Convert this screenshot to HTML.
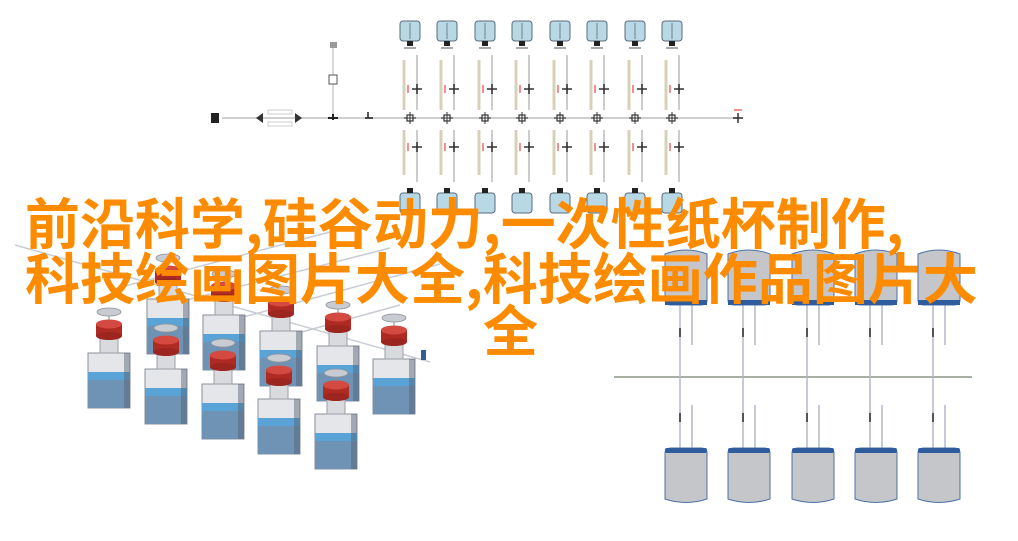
<!DOCTYPE html>
<html><head><meta charset="utf-8"><style>
html,body{margin:0;padding:0;background:#fff;}
svg{display:block}
.t{font-family:"Noto Sans CJK SC","Liberation Sans",sans-serif;font-size:55px;font-weight:bold;fill:#fd8b00;}
</style></head><body>
<svg width="1018" height="541" viewBox="0 0 1018 541" xmlns="http://www.w3.org/2000/svg">
<defs>
<g id="ttank">
<rect x="-10" y="0" width="20" height="20" rx="3" fill="#b9d8e6" stroke="#5a6a78" stroke-width="1"/>
<line x1="0" y1="2" x2="0" y2="18" stroke="#5a6a78" stroke-width="0.8"/>
<rect x="-3" y="20" width="6" height="5" fill="#222"/>
</g>
<g id="col">
<use href="#ttank" x="0" y="21"/>
<line x1="-6" y1="48" x2="6" y2="48" stroke="#555" stroke-width="1"/>
<line x1="-6" y1="60" x2="-6" y2="110" stroke="#d8d0b8" stroke-width="3"/>
<line x1="7" y1="55" x2="7" y2="110" stroke="#ccc" stroke-width="2"/>
<line x1="-6" y1="130" x2="-6" y2="175" stroke="#d8d0b8" stroke-width="3"/>
<line x1="7" y1="130" x2="7" y2="182" stroke="#ccc" stroke-width="2"/>
<path d="M2 89 h10 M7 84 v10 M2 147 h10 M7 142 v10" stroke="#333" stroke-width="1.5"/>
<line x1="-2" y1="85" x2="-2" y2="93" stroke="#e02020" stroke-width="1"/>
<line x1="-2" y1="143" x2="-2" y2="151" stroke="#e02020" stroke-width="1"/>
<rect x="-3" y="115" width="6" height="6" fill="#fff" stroke="#333" stroke-width="1.2"/>
<path d="M-6 118 h12 M0 112 v12" stroke="#333" stroke-width="1"/>
<rect x="-10" y="193" width="20" height="20" rx="3" fill="#b9d8e6" stroke="#5a6a78" stroke-width="1"/>
<rect x="-3" y="188" width="6" height="5" fill="#222"/>
</g>
<g id="bottle">
<rect x="0" y="-11" width="42" height="55" fill="#e4e6ea" stroke="#8a8f98" stroke-width="1"/>
<rect x="0" y="8" width="42" height="36" fill="#6f93b4"/>
<polygon points="0,8 42,8 42,16 0,16" fill="#5aa3d6"/>
<rect x="36" y="-11" width="6" height="55" fill="#55606e" opacity="0.45"/>
<rect x="12" y="-26" width="18" height="15" fill="#d8dade" stroke="#9aa0a8" stroke-width="1"/>
<rect x="8" y="-40" width="26" height="12" fill="#b02a24"/>
<ellipse cx="21" cy="-28" rx="13" ry="4" fill="#9c2520"/>
<ellipse cx="21" cy="-40" rx="13" ry="4.5" fill="#d44a40"/>
<line x1="21" y1="-52" x2="21" y2="-44" stroke="#888"/>
<ellipse cx="21" cy="-52" rx="12" ry="4" fill="#c8ccd2" stroke="#8a8f98" stroke-width="0.8"/>
</g>
<g id="rtop">
<path d="M0 6 Q21 -2 42 6 V52 Q42 57 36 57 H6 Q0 57 0 52 Z" fill="#c5c6c9" stroke="#4c72a8" stroke-width="1"/>
<rect x="0" y="52" width="42" height="5" fill="#2e5c9c"/>
</g>
<g id="rbot">
<path d="M0 5 Q0 0 6 0 H36 Q42 0 42 5 V51 Q21 58 0 51 Z" fill="#c5c6c9" stroke="#4c72a8" stroke-width="1"/>
<rect x="0" y="0" width="42" height="5" rx="2" fill="#2e5c9c"/>
</g>
</defs>

<line x1="222" y1="118" x2="740" y2="118" stroke="#cfcfcf" stroke-width="2"/>
<rect x="211" y="113" width="8" height="10" fill="#222"/>
<path d="M256 118 l7 -5 v10 z M302 118 l-7 -5 v10 z" fill="#333"/>
<rect x="268" y="110" width="24" height="4" fill="none" stroke="#ccc"/>
<rect x="268" y="122" width="24" height="4" fill="none" stroke="#ccc"/>
<line x1="333" y1="47" x2="333" y2="118" stroke="#ccc" stroke-width="1.5"/>
<rect x="330" y="42" width="7" height="6" fill="#999"/>
<rect x="329" y="75" width="8" height="9" fill="#fff" stroke="#555"/>
<path d="M328 118 h10 M333 114 v6" stroke="#222" stroke-width="2"/>
<path d="M365 118 h8 M368 112 v6 h4" stroke="#222" stroke-width="1.5" fill="none"/>
<path d="M733 118 h10 M738 113 v10" stroke="#333" stroke-width="1.5"/>
<line x1="734" y1="110" x2="742" y2="110" stroke="#e02020"/>
<use href="#col" x="410"/><use href="#col" x="447"/><use href="#col" x="485"/><use href="#col" x="522"/>
<use href="#col" x="560"/><use href="#col" x="597"/><use href="#col" x="635"/><use href="#col" x="672"/>

<g stroke="#c8ccd4" stroke-width="1.5">
<line x1="15" y1="245" x2="430" y2="362"/>
<line x1="110" y1="290" x2="330" y2="232"/>
<line x1="167" y1="305" x2="390" y2="248"/>
<line x1="225" y1="322" x2="440" y2="264"/>
<line x1="280" y1="338" x2="400" y2="305"/>
</g>
<use href="#bottle" x="147" y="310"/><use href="#bottle" x="203" y="326"/><use href="#bottle" x="260" y="342"/>
<use href="#bottle" x="317" y="357"/><use href="#bottle" x="373" y="370"/>
<use href="#bottle" x="88" y="364"/><use href="#bottle" x="145" y="380"/><use href="#bottle" x="202" y="395"/>
<use href="#bottle" x="258" y="410"/><use href="#bottle" x="315" y="425"/>
<rect x="421" y="350" width="5" height="10" fill="#2e5c9c"/>

<line x1="614" y1="377" x2="972" y2="377" stroke="#a8b0a4" stroke-width="2"/>
<g stroke="#b4b8cc" stroke-width="1.5">
<path d="M680 305 V448 M692 305 V345 M692 405 V448"/>
<path d="M743 305 V448 M755 305 V345 M755 405 V448"/>
<path d="M807 305 V448 M819 305 V345 M819 405 V448"/>
<path d="M870 305 V448 M882 305 V345 M882 405 V448"/>
<path d="M933 305 V448 M945 305 V345 M945 405 V448"/>
</g>
<g fill="#555"><rect x="679" y="328" width="2" height="9"/><rect x="742" y="328" width="2" height="9"/><rect x="806" y="328" width="2" height="9"/><rect x="869" y="328" width="2" height="9"/><rect x="932" y="328" width="2" height="9"/>
<rect x="679" y="413" width="2" height="9"/><rect x="742" y="413" width="2" height="9"/><rect x="806" y="413" width="2" height="9"/><rect x="869" y="413" width="2" height="9"/><rect x="932" y="413" width="2" height="9"/></g>
<use href="#rtop" x="665" y="248"/><use href="#rtop" x="728" y="248"/><use href="#rtop" x="792" y="248"/><use href="#rtop" x="855" y="248"/><use href="#rtop" x="918" y="248"/>
<use href="#rbot" x="665" y="448"/><use href="#rbot" x="728" y="448"/><use href="#rbot" x="792" y="448"/><use href="#rbot" x="855" y="448"/><use href="#rbot" x="918" y="448"/>

<text class="t" x="25" y="244">前沿科学,硅谷动力,一次性纸杯制作,</text>
<text class="t" x="25" y="299">科技绘画图片大全,科技绘画作品图片大</text>
<text class="t" x="483" y="351">全</text>
</svg>
</body></html>
